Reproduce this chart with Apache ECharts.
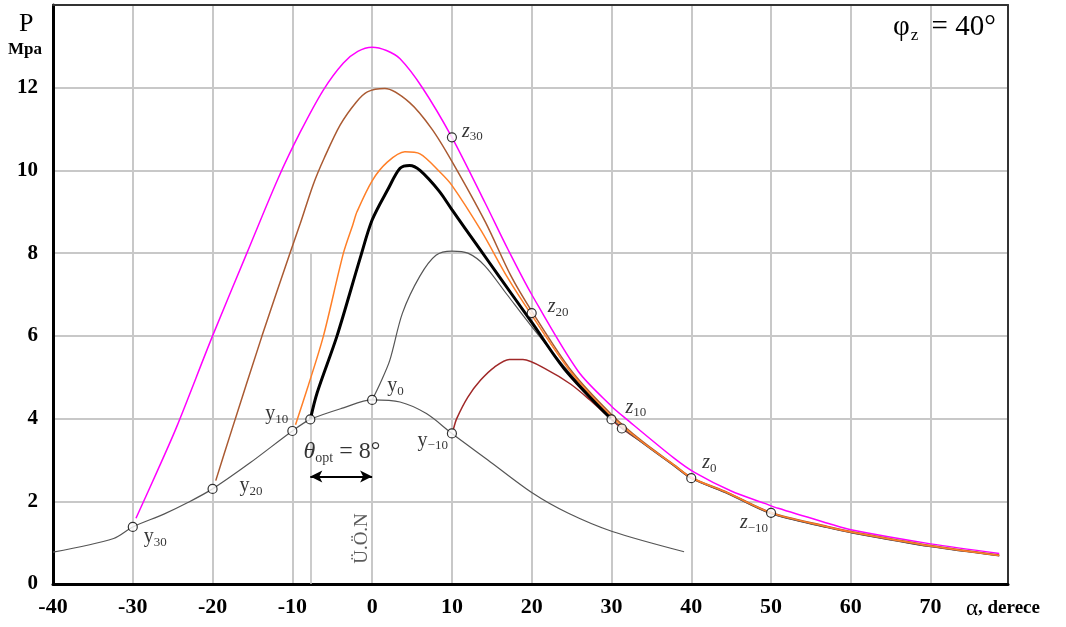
<!DOCTYPE html>
<html><head><meta charset="utf-8">
<script src="https://cdn.jsdelivr.net/npm/echarts@6/dist/echarts.min.js"></script>
<style>html,body{margin:0;padding:0;background:#fff}#c{width:1066px;height:627px}</style>
</head><body><div id="c"></div>
<script>
// ---------- data (alpha in degrees, P in MPa) ----------
const curveYBase = [[-40,0.77],[-32.4,1.1],[-30,1.38],[-26.1,1.69],[-23.1,1.97],[-20,2.3],[-15.3,2.93],[-10,3.7],[-7.75,3.98],[-3.6,4.26],[0,4.45],[3.5,4.4],[6.8,4.12],[10,3.64],[14.5,3.0],[20.1,2.2],[24.6,1.71],[30.1,1.27],[39.1,0.78]];
const curveMagenta = [[-29.6,1.59],[-27,2.7],[-24.5,3.8],[-20,6.0],[-15.7,8.0],[-11.8,9.8],[-9,10.93],[-6.1,11.95],[-3.6,12.6],[-1.8,12.88],[0,12.98],[1.8,12.9],[3.5,12.7],[6.3,12.0],[10,10.8],[14.2,9.2],[17,8.1],[20,7.0],[25.8,5.15],[30,4.3],[31.8,4.0],[37.8,3.05],[40.4,2.7],[45,2.25],[49.2,1.95],[50.9,1.83],[57.1,1.47],[60,1.31],[70,0.97],[78.6,0.74]];
const curveBrown = [[-19.6,2.5],[-17.8,3.6],[-13.8,6.0],[-10.3,8.0],[-9,8.72],[-7.4,9.65],[-6,10.3],[-4,11.1],[-2,11.65],[-0.6,11.9],[1.6,11.98],[4.7,11.64],[7.5,11.0],[10,10.22],[14.2,8.75],[17.4,7.45],[20,6.6],[25,5.15],[30,4.1],[33.8,3.46],[38,2.86],[40,2.58],[44.6,2.21],[50,1.73],[57.1,1.39],[60,1.27],[70,0.93],[78.6,0.7]];
const curveOrange = [[-9.6,3.85],[-8,4.8],[-6.1,6.0],[-3.6,8.0],[-2.4,8.7],[-1.9,9.0],[0,9.75],[1.9,10.2],[4.1,10.45],[6,10.4],[8.4,9.98],[10,9.64],[13.7,8.53],[17,7.4],[20,6.5],[25,5.1],[30,4.05],[33.8,3.44],[38,2.85],[40,2.57],[44.6,2.2],[50,1.72],[57.1,1.38],[60,1.26],[70,0.92],[78.6,0.69]];
const curveBlack = [[-7.75,3.98],[-6.9,4.62],[-4.4,6.0],[-1.5,7.88],[0,8.8],[2,9.55],[3.5,10.05],[4.7,10.12],[6,10.0],[8.4,9.5],[10,9.05],[13.3,8.15],[15.8,7.47],[20.1,6.3],[24.1,5.2],[29.9,4.0]];
const curveGray2 = [[0,4.45],[1,4.85],[2.2,5.4],[3.8,6.55],[6,7.45],[8,7.95],[10,8.05],[12,8.0],[14.1,7.7],[16.9,7.0],[20.1,6.2],[25,5.05],[30,4.0],[33.8,3.42],[38,2.83],[40,2.55],[44.6,2.18],[50,1.7],[57.1,1.36],[60,1.24],[70,0.9],[78.6,0.68]];
const curveDarkRed = [[10.2,3.75],[10.6,4.0],[12,4.52],[13.6,4.93],[15.3,5.24],[17.2,5.43],[18.9,5.43],[22,5.17],[24.9,4.83],[27.3,4.45],[29.3,4.1],[31.3,3.76],[33.8,3.43],[38,2.84],[40,2.56],[44.6,2.19],[50,1.71],[57.1,1.37],[60,1.25],[70,0.91],[78.6,0.69]];

const markerPoints = [[-30,1.38],[-20,2.3],[-10,3.7],[-7.75,3.98],[0,4.45],[10,3.64],[10,10.8],[20,6.55],[30,3.98],[31.3,3.76],[40,2.56],[50,1.72]];
const markerLetters = ['y','y','y','','y','y','z','z','z','','z','z'];
const markerSubs = ['30','20','10','','0','\u221210','30','20','10','','0','\u221210'];

const thetaLine = [[-7.75,8],[-7.75,0]];
const arrowSpan = [[-7.75,2.6],[0,2.6]];
const thetaText = {pos:[-8.6,3.2], main:'\u03B8', sub:'opt', tail:' = 8\u00B0'};
const uonText = {pos:[-1.3,1.1], text:'\u00DC.\u00D6.N'};

const xTickLabels = [-40,-30,-20,-10,0,10,20,30,40,50,60,70];
const yTickLabels = [0,2,4,6,8,10,12];

// ---------- styles ----------
const SERIF = '"Liberation Serif","DejaVu Serif",serif';
const labelOffsets = [[11,10],[27,-3],[-4,-17],[0,0],[15,-14],[-4,7],[10,-6],[16,-6],[14,-12],[0,0],[11,-15],[-3,10]];
const labelAligns = ['left','left','right','left','left','right','left','left','left','left','left','right'];

const chart = echarts.init(document.getElementById('c'), null, {renderer:'canvas'});

function lineSeries(name, data, color, width, z){
  return {name, type:'line', data, showSymbol:false, smooth:0.3,
    lineStyle:{color, width}, z, silent:true};
}

const markerData = markerPoints.map((p,i)=>{
  const l = markerLetters[i];
  return {value:p, label: l ? {show:true,
    formatter: '{' + (l==='z'?'zi':'m') + '|' + l + '}{s|' + markerSubs[i] + '}',
    offset: labelOffsets[i], align: labelAligns[i]} : {show:false}};
});

const richSub = {
  m:{fontFamily:SERIF, fontSize:20, lineHeight:24, color:'#000'},
  zi:{fontFamily:SERIF, fontSize:20, fontStyle:'italic', lineHeight:24, color:'#000'},
  s:{fontFamily:SERIF, fontSize:13, lineHeight:11, verticalAlign:'bottom', color:'#000'}
};

const xMax = 79.7, yMax = 14;
const frameAxis = {show:true, onZero:false, lineStyle:{color:'#333', width:2}};

const option = {
  animation:false,
  backgroundColor:'#fff',
  grid:{left:53, right:58, top:5, bottom:43, show:false},
  xAxis:[{type:'value', min:xTickLabels[0], max:xMax, interval:10,
    axisLine:{show:true, onZero:false, lineStyle:{color:'#000', width:3}},
    axisTick:{show:false},
    splitLine:{show:true, lineStyle:{color:'#c8c8c8', width:2}},
    axisLabel:{fontFamily:SERIF, fontWeight:'bold', fontSize:22, color:'#000', margin:12, showMaxLabel:false,
      formatter:v=> xTickLabels.includes(v) ? String(v) : ''}},
    {type:'value', position:'top', min:xTickLabels[0], max:xMax, axisLine:frameAxis,
     axisTick:{show:false}, axisLabel:{show:false}, splitLine:{show:false}}],
  yAxis:[{type:'value', min:yTickLabels[0], max:yMax, interval:2,
    axisLine:{show:true, onZero:false, lineStyle:{color:'#000', width:3}},
    axisTick:{show:false},
    splitLine:{show:true, lineStyle:{color:'#c8c8c8', width:2}},
    axisLabel:{fontFamily:SERIF, fontWeight:'bold', fontSize:21, color:'#000', margin:15, showMaxLabel:false,
      formatter:v=> yTickLabels.includes(v) ? String(v) : ''}},
    {type:'value', position:'right', min:yTickLabels[0], max:yMax, axisLine:frameAxis,
     axisTick:{show:false}, axisLabel:{show:false}, splitLine:{show:false}}],
  series:[
    lineSeries('y', curveYBase, '#555', 1.2, 2),
    lineSeries('darkred', curveDarkRed, '#a02828', 1.5, 3),
    lineSeries('gray2', curveGray2, '#555', 1.2, 3),
    lineSeries('magenta', curveMagenta, '#ff00ff', 1.5, 4),
    lineSeries('brown', curveBrown, '#aa5a32', 1.5, 4),
    lineSeries('orange', curveOrange, '#ff7f27', 1.5, 5),
    lineSeries('black', curveBlack, '#000', 3, 6),
    {type:'line', data:[], silent:true, z:7,
      markLine:{silent:true, animation:false, label:{show:false},
        data:[
          [{coord:thetaLine[0], symbol:'none', lineStyle:{color:'#bbb', width:1.5, type:'solid'}},
           {coord:thetaLine[1], symbol:'none'}],
          [{coord:arrowSpan[0], symbol:'arrow', symbolSize:[9,12], lineStyle:{color:'#000', width:2, type:'solid'}},
           {coord:arrowSpan[1], symbol:'arrow', symbolSize:[9,12]}]
        ]}},
    {type:'scatter', data:markerData, symbol:'circle', symbolSize:9, z:10, silent:true,
      itemStyle:{color:'#fff', borderColor:'#000', borderWidth:1.2},
      label:{position:'inside', verticalAlign:'middle', rich:richSub}},
    {type:'scatter', symbolSize:0, z:11, silent:true,
      data:[
        {value:thetaText.pos, label:{show:true, position:'inside', align:'left', verticalAlign:'middle',
          formatter:'{t|'+thetaText.main+'}{s|'+thetaText.sub+'}{e|'+thetaText.tail+'}',
          rich:{t:{fontFamily:SERIF, fontStyle:'italic', fontSize:24, lineHeight:28, color:'#000'},
                s:{fontFamily:SERIF, fontSize:14, lineHeight:12, verticalAlign:'bottom', color:'#000'},
                e:{fontFamily:SERIF, fontSize:24, lineHeight:28, color:'#000'}}}},
        {value:uonText.pos, label:{show:true, position:'inside', rotate:90, align:'center', verticalAlign:'middle',
          formatter:uonText.text, fontFamily:SERIF, fontSize:19, color:'#333'}}
      ]}
  ],
  graphic:[
    {type:'text', left:19, top:11, style:{text:'P', font:'26px "Liberation Serif"', fill:'#000'}},
    {type:'text', left:8, top:41, style:{text:'Mpa', font:'bold 17px "Liberation Serif"', fill:'#000'}},
    {type:'text', left:966, top:597, style:{text:'{a|\u03B1}{b|, derece}', rich:{
      a:{fontFamily:SERIF, fontSize:23, lineHeight:26, fill:'#000'},
      b:{fontFamily:SERIF, fontSize:19, fontWeight:'bold', lineHeight:26, fill:'#000'}}}},
    {type:'text', left:893, top:13, style:{text:'{a|\u03C6}{b|z}{a| = 40\u00B0}', rich:{
      a:{fontFamily:SERIF, fontSize:29, lineHeight:34, fill:'#000'},
      b:{fontFamily:SERIF, fontSize:17, lineHeight:16, verticalAlign:'bottom', padding:[0,6,0,1], fill:'#000'}}}}
  ]
};
chart.setOption(option);
</script></body></html>
